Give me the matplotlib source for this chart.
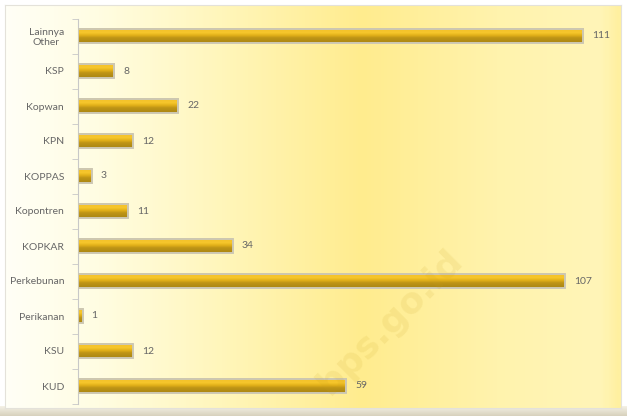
import numpy as np
import matplotlib.pyplot as plt
from matplotlib.colors import LinearSegmentedColormap

categories = ["KUD", "KSU", "Perikanan", "Perkebunan", "KOPKAR", "Kopontren",
              "KOPPAS", "KPN", "Kopwan", "KSP", "Lainnya\nOther"]
values = [59, 12, 1, 107, 34, 11, 3, 12, 22, 8, 111]

plt.rcParams['font.family'] = ['Lato', 'DejaVu Sans']

fig = plt.figure(figsize=(6.27, 4.16), dpi=100)
W, H = 627, 416

# shadow strip under the panel
sh = fig.add_axes([0.0, 0, 1, 10 / H])
sh.imshow(np.linspace(0, 1, 20).reshape(-1, 1), aspect='auto', extent=[0, 1, 0, 1],
          cmap=LinearSegmentedColormap.from_list('s', ['#f4f1e6', '#d8d2bd']))
sh.axis('off')

# yellow gradient panel
bg = fig.add_axes([5 / W, 8 / H, 616 / W, 403 / H])
bg_cmap = LinearSegmentedColormap.from_list('bg', [
    (0.0, '#fffff6'), (0.15, '#fffde2'), (0.35, '#fff6bb'),
    (0.58, '#ffec8e'), (0.8, '#fff3ad'), (0.97, '#fff5b8'), (1.0, '#fff0a0')])
bg.imshow(np.linspace(0, 1, 300).reshape(1, -1), aspect='auto', cmap=bg_cmap,
          extent=[0, 1, 0, 1])
bg.set_xticks([])
bg.set_yticks([])
for s in bg.spines.values():
    s.set_color('#e4e2da')
    s.set_linewidth(0.8)

fig.text(390 / W, 1 - 322 / H, "bps.go.id", fontsize=26,
         fontweight='bold', color='#c8a020', alpha=0.12, rotation=45,
         ha='center', va='center', family='DejaVu Sans')

ax = fig.add_axes([78 / W, 12.5 / H, 546 / W, 385 / H])
ax.patch.set_alpha(0)
y = np.arange(len(categories))
h = 0.42
bar_cmap = LinearSegmentedColormap.from_list('bar', [
    (0.0, '#a98614'), (0.35, '#bf9516'), (0.5, '#e0ae18'),
    (0.7, '#f7c72c'), (0.88, '#f4c22a'), (1.0, '#e4b21e')])
grad = np.linspace(0, 1, 50).reshape(-1, 1)
bars = ax.barh(y, values, height=h, color='none', edgecolor='#cdc8b4',
               linewidth=1.4, zorder=3)
for b in bars:
    x0, y0 = b.get_x(), b.get_y()
    ax.imshow(grad, aspect='auto', cmap=bar_cmap, origin='lower',
              extent=[x0, x0 + b.get_width(), y0, y0 + b.get_height()],
              zorder=2)

for yi, v in zip(y, values):
    ax.text(v + 2.0, yi, str(v), va='center', ha='left', fontsize=7.5, color='#666666')

ax.set_xlim(0, 120)
ax.set_ylim(-0.5, len(categories) - 0.5)
ax.set_yticks(y)
ax.set_yticklabels(categories, fontsize=7.5, color='#666666')
ax.set_yticks(np.arange(-0.5, len(categories)), minor=True)
ax.tick_params(axis='y', which='major', length=0, pad=10)
ax.tick_params(axis='y', which='minor', length=4, color='#c8c8c8', direction='out')
ax.set_xticks([])
for k in ['top', 'right', 'bottom']:
    ax.spines[k].set_visible(False)
ax.spines['left'].set_color('#c8c8c8')
ax.spines['left'].set_linewidth(0.8)
for lbl in ax.get_yticklabels():
    lbl.set_multialignment('center')

fig.savefig('out.png', dpi=100)
